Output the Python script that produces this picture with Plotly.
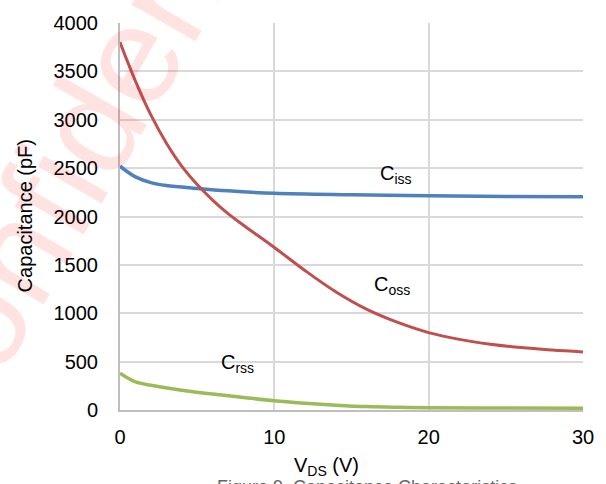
import plotly.graph_objects as go

# Data
vds_ciss = [0, 0.5, 1, 2, 3, 5, 7, 10, 15, 20, 25, 30]
ciss = [2520, 2460, 2410, 2350, 2320, 2290, 2265, 2240, 2225, 2215, 2208, 2205]

vds_coss = [0, 1, 2, 3, 4, 5, 6, 7, 8, 10, 12, 14, 16, 18, 20, 22, 24, 26, 28, 30]
coss = [3800, 3400, 3050, 2760, 2520, 2330, 2170, 2030, 1910, 1680, 1440, 1220, 1040, 905, 800, 730, 680, 645, 620, 600]

vds_crss = [0, 0.5, 1, 2, 4, 6, 8, 10, 12, 14, 16, 18, 20, 25, 30]
crss = [380, 330, 290, 255, 205, 165, 130, 95, 70, 50, 35, 28, 24, 20, 18]

x_ticks = [0, 10, 20, 30]
y_ticks = [0, 500, 1000, 1500, 2000, 2500, 3000, 3500, 4000]

FONT = "Liberation Sans, Arial, sans-serif"

fig = go.Figure()
fig.add_trace(go.Scatter(x=vds_ciss, y=ciss, mode="lines", line=dict(color="#4F81BD", width=3.5, shape="spline"), name="Ciss"))
fig.add_trace(go.Scatter(x=vds_coss, y=coss, mode="lines", line=dict(color="#C0504D", width=3, shape="spline"), name="Coss"))
fig.add_trace(go.Scatter(x=vds_crss, y=crss, mode="lines", line=dict(color="#9BBB59", width=3.5, shape="spline"), name="Crss"))

L, R, T, B = 120, 21, 15, 74
W, H = 606, 484
pw, ph = W - L - R, H - T - B

def px(xp):
    return (xp - L) / pw

def py(yp):
    return (H - B - yp) / ph

def ann(x, y, text, size=20, color="black", **kw):
    return dict(x=x, y=y, text=text, showarrow=False, xanchor="center", yanchor=kw.pop("yanchor", "middle"),
                font=dict(size=size, color=color, family=FONT), **kw)

annotations = [
    ann(px(92), py(118), "Confidential", size=140, color="rgba(255,0,0,0.11)", xref="paper", yref="paper", textangle=-60),
    ann(17.9, 2430, "C<sub>iss</sub>", xref="x", yref="y"),
    ann(17.6, 1290, "C<sub>oss</sub>", xref="x", yref="y"),
    ann(7.6, 480, "C<sub>rss</sub>", xref="x", yref="y"),
    ann(px(327), py(468), "V<sub>DS</sub> (V)", xref="paper", yref="paper"),
    ann(px(25), py(212), "Capacitance (pF)", xref="paper", yref="paper", textangle=-90),
    ann(px(368), py(476), "Figure 9. Capacitance Characteristics", size=18, color="#666666",
        xref="paper", yref="paper", yanchor="top"),
]

fig.update_layout(
    width=W, height=H,
    margin=dict(l=L, r=R, t=T, b=B),
    paper_bgcolor="white", plot_bgcolor="rgba(0,0,0,0)",
    showlegend=False,
    font=dict(family=FONT, size=20, color="black"),
    annotations=annotations,
)
fig.update_xaxes(range=[0, 30], tickvals=x_ticks, showgrid=True, gridcolor="#d9d9d9", gridwidth=2,
                 showline=True, linecolor="#bfbfbf", linewidth=2, zeroline=False,
                 ticks="", ticklabelstandoff=8, tickfont=dict(size=20, family=FONT))
fig.update_yaxes(range=[0, 4000], tickvals=y_ticks, showgrid=True, gridcolor="#d9d9d9", gridwidth=2,
                 showline=True, linecolor="#bfbfbf", linewidth=2, zeroline=False,
                 ticks="", ticklabelstandoff=16, tickfont=dict(size=20, family=FONT))

fig.write_html("out.html")
